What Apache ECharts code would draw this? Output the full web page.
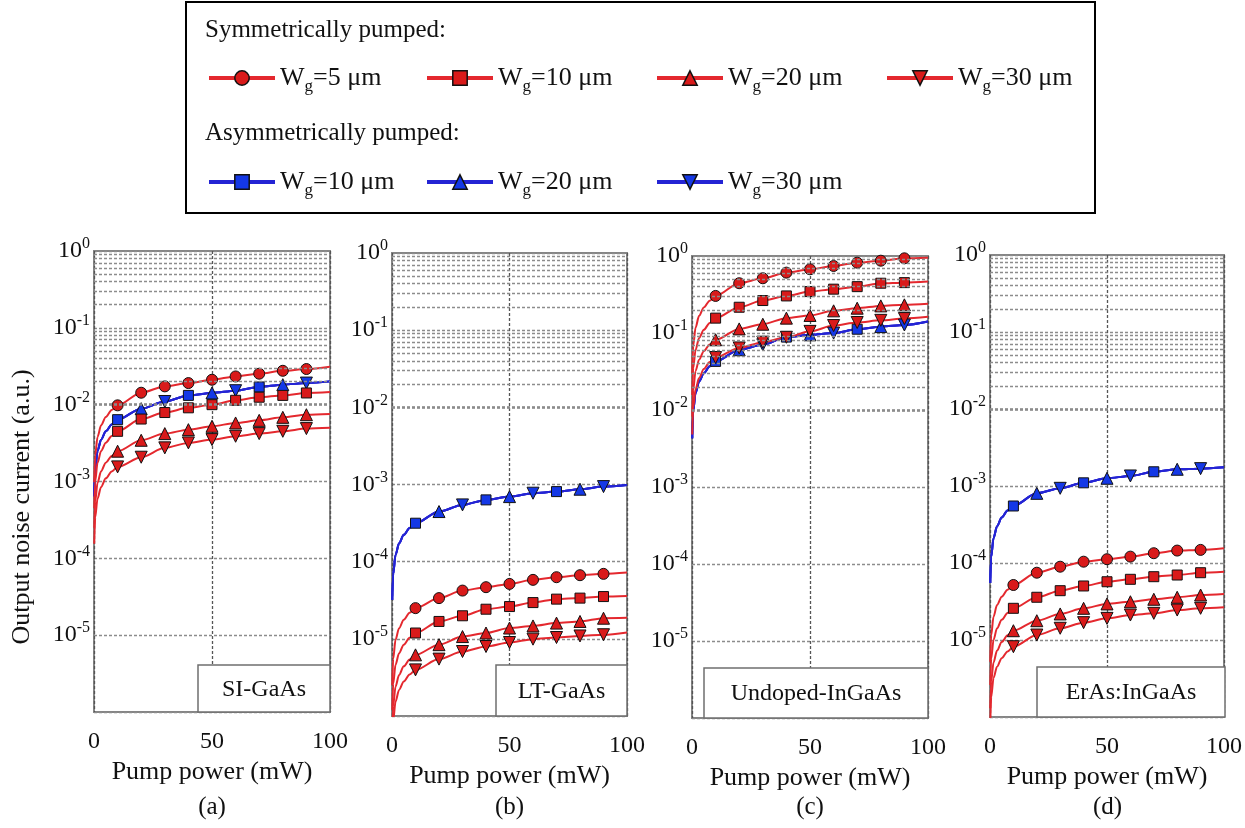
<!DOCTYPE html>
<html>
<head>
<meta charset="utf-8">
<script src="https://cdn.jsdelivr.net/npm/echarts@6/dist/echarts.min.js"></script>
<style>
  html, body { margin: 0; padding: 0; background: #fff; }
  #chart { width: 1245px; height: 828px; }
</style>
</head>
<body>
<div id="chart"></div>
<script>
// pump power samples (mW), markers sit on the 10..90 ones
const pumpPower = [0.1, 0.5, 1.5, 3, 5, 7.5, 10, 20, 30, 40, 50, 60, 70, 80, 90, 100]
const xTicks = [0, 50, 100]

// (a) SI-GaAs
const siGaAsS5  = [0.00098, 0.0022, 0.0038, 0.0054, 0.0069, 0.0085, 0.0098, 0.0143, 0.0173, 0.0191, 0.0211, 0.0233, 0.0253, 0.0276, 0.0291, 0.0312]
const siGaAsS10 = [0.00045, 0.001, 0.00175, 0.0025, 0.0032, 0.0039, 0.0045, 0.0065, 0.0079, 0.0091, 0.0100, 0.0114, 0.0125, 0.0132, 0.0142, 0.0146]
const siGaAsS20 = [0.00025, 0.00055, 0.00096, 0.00136, 0.00176, 0.00215, 0.00248, 0.00344, 0.0042, 0.00473, 0.00523, 0.00578, 0.00625, 0.00684, 0.0074, 0.00757]
const siGaAsS30 = [0.000155, 0.00034, 0.0006, 0.00085, 0.0011, 0.00135, 0.00155, 0.00207, 0.00274, 0.00318, 0.00351, 0.00388, 0.0042, 0.0045, 0.00488, 0.0050]
const siGaAsAsym = [0.00064, 0.0014, 0.0025, 0.0035, 0.0045, 0.0055, 0.00638, 0.00887, 0.0110, 0.0132, 0.0142, 0.0152, 0.0170, 0.0182, 0.0191, 0.0201]

// (b) LT-GaAs
const ltGaAsS5  = [2.5e-6, 5.5e-6, 9.7e-6, 1.37e-5, 1.77e-5, 2.17e-5, 2.5e-5, 3.37e-5, 4.22e-5, 4.67e-5, 5.15e-5, 5.81e-5, 6.29e-5, 6.68e-5, 6.95e-5, 7.23e-5]
const ltGaAsS10 = [1.2e-6, 2.6e-6, 4.6e-6, 6.5e-6, 8.4e-6, 1.03e-5, 1.19e-5, 1.68e-5, 1.99e-5, 2.42e-5, 2.62e-5, 2.95e-5, 3.27e-5, 3.37e-5, 3.53e-5, 3.6e-5]
const ltGaAsS20 = [6.2e-7, 1.36e-6, 2.4e-6, 3.4e-6, 4.4e-6, 5.4e-6, 6.2e-6, 8.4e-6, 1.07e-5, 1.19e-5, 1.38e-5, 1.47e-5, 1.6e-5, 1.68e-5, 1.85e-5, 1.87e-5]
const ltGaAsS30 = [4e-7, 8.7e-7, 1.54e-6, 2.18e-6, 2.8e-6, 3.45e-6, 3.96e-6, 5.46e-6, 6.85e-6, 7.95e-6, 8.96e-6, 9.9e-6, 1.04e-5, 1.09e-5, 1.13e-5, 1.21e-5]
const ltGaAsAsym = [3.2e-5, 6.9e-5, 1.22e-4, 1.73e-4, 2.23e-4, 2.73e-4, 3.15e-4, 4.46e-4, 5.44e-4, 6.32e-4, 6.97e-4, 7.71e-4, 8.09e-4, 8.69e-4, 9.39e-4, 9.88e-4]

// (c) Undoped-InGaAs
const inGaAsS5  = [0.03, 0.068, 0.117, 0.167, 0.215, 0.263, 0.303, 0.443, 0.514, 0.608, 0.673, 0.742, 0.819, 0.869, 0.933, 0.95]
const inGaAsS10 = [0.0156, 0.035, 0.06, 0.086, 0.11, 0.135, 0.156, 0.216, 0.264, 0.303, 0.345, 0.371, 0.40, 0.443, 0.451, 0.465]
const inGaAsS20 = [0.0082, 0.018, 0.032, 0.045, 0.058, 0.071, 0.0817, 0.113, 0.130, 0.156, 0.169, 0.194, 0.21, 0.225, 0.232, 0.239]
const inGaAsS30 = [0.0048, 0.0107, 0.0186, 0.026, 0.034, 0.042, 0.048, 0.064, 0.076, 0.088, 0.105, 0.125, 0.137, 0.146, 0.154, 0.162]
const inGaAsAsym = [0.0043, 0.0096, 0.0166, 0.0235, 0.030, 0.037, 0.0428, 0.0606, 0.0703, 0.0885, 0.0948, 0.0997, 0.112, 0.121, 0.127, 0.141]

// (d) ErAs:InGaAs
const erAsS5  = [5.2e-6, 1.15e-5, 2e-5, 2.85e-5, 3.65e-5, 4.5e-5, 5.18e-5, 7.48e-5, 8.95e-5, 1.04e-4, 1.12e-4, 1.21e-4, 1.34e-4, 1.45e-4, 1.48e-4, 1.55e-4]
const erAsS10 = [2.6e-6, 5.7e-6, 1e-5, 1.42e-5, 1.83e-5, 2.24e-5, 2.58e-5, 3.59e-5, 4.37e-5, 5.03e-5, 5.71e-5, 6.14e-5, 6.64e-5, 6.98e-5, 7.48e-5, 7.7e-5]
const erAsS20 = [1.3e-6, 2.9e-6, 5.1e-6, 7.3e-6, 9.4e-6, 1.15e-5, 1.32e-5, 1.78e-5, 2.18e-5, 2.58e-5, 2.94e-5, 3.14e-5, 3.38e-5, 3.59e-5, 3.84e-5, 3.96e-5]
const erAsS30 = [8e-7, 1.8e-6, 3.2e-6, 4.5e-6, 5.8e-6, 7.1e-6, 8.18e-6, 1.16e-5, 1.42e-5, 1.68e-5, 1.91e-5, 2.11e-5, 2.22e-5, 2.45e-5, 2.58e-5, 2.66e-5]
const erAsAsym = [5.5e-5, 1.2e-4, 2.1e-4, 3e-4, 3.9e-4, 4.8e-4, 5.5e-4, 8.03e-4, 9.33e-4, 1.1e-3, 1.26e-3, 1.35e-3, 1.53e-3, 1.65e-3, 1.68e-3, 1.75e-3]

const panels = [
  { material: 'SI-GaAs', tag: '(a)', sym: [siGaAsS5, siGaAsS10, siGaAsS20, siGaAsS30], asym: siGaAsAsym },
  { material: 'LT-GaAs', tag: '(b)', sym: [ltGaAsS5, ltGaAsS10, ltGaAsS20, ltGaAsS30], asym: ltGaAsAsym },
  { material: 'Undoped-InGaAs', tag: '(c)', sym: [inGaAsS5, inGaAsS10, inGaAsS20, inGaAsS30], asym: inGaAsAsym },
  { material: 'ErAs:InGaAs', tag: '(d)', sym: [erAsS5, erAsS10, erAsS20, erAsS30], asym: erAsAsym }
]

const symNames = ['S5', 'S10', 'S20', 'S30']
const asymNames = ['A10', 'A20', 'A30']
const labelOf = { S5: '5', S10: '10', S20: '20', S30: '30', A10: '10', A20: '20', A30: '30' }

// layout
const grids = [
  { left: 94, top: 251, width: 236, height: 461 },
  { left: 392, top: 253, width: 235, height: 463 },
  { left: 692, top: 256, width: 236, height: 462 },
  { left: 990, top: 255, width: 235, height: 462 }
]
const insets = [
  { x: 198, y: 665, w: 132, h: 47 },
  { x: 496, y: 665, w: 131, h: 51 },
  { x: 704, y: 668, w: 224, h: 50 },
  { x: 1037, y: 667, w: 188, h: 50 }
]

const FONT = '"Liberation Serif", "Times New Roman", serif'
const RED = '#e4282e'
const RED_MK = '#d91a1a'
const BLUE = '#2424d4'
const BLUE_MK = '#1438e6'

const marks = {
  S5: { symbol: 'circle', size: 11, rotate: 0 },
  S10: { symbol: 'rect', size: 10, rotate: 0 },
  S20: { symbol: 'triangle', size: 12, rotate: 0 },
  S30: { symbol: 'triangle', size: 12, rotate: 180 },
  A10: { symbol: 'rect', size: 10, rotate: 0 },
  A20: { symbol: 'triangle', size: 12, rotate: 0 },
  A30: { symbol: 'triangle', size: 12, rotate: 180 }
}
const symMarkAt = [10, 20, 30, 40, 50, 60, 70, 80, 90]
const asymMarkAt = { A10: [10, 40, 70], A20: [20, 50, 80], A30: [30, 60, 90] }

// log minor grid values 2..9 x 10^k
const minorLines = []
for (let k = -6; k < 0; k++) {
  for (let m = 2; m <= 9; m++) minorLines.push(m * Math.pow(10, k))
}

function buildData (values, markAt) {
  return pumpPower.map((x, i) => markAt.indexOf(x) >= 0
    ? [x, values[i]]
    : { value: [x, values[i]], symbol: 'none' })
}

function curve (name, idx, values, markAt, color, mkColor) {
  const mk = marks[name]
  return {
    name: name,
    type: 'line',
    xAxisIndex: idx,
    yAxisIndex: idx,
    smooth: 0.3,
    smoothMonotone: 'x',
    symbol: mk.symbol,
    symbolSize: mk.size,
    symbolRotate: mk.rotate,
    lineStyle: { color: color, width: 2 },
    itemStyle: { color: mkColor, borderColor: '#111', borderWidth: 1 },
    emphasis: { disabled: true },
    z: 3,
    data: buildData(values, markAt)
  }
}

const series = []
panels.forEach((p, idx) => {
  series.push({
    name: 'grid' + idx,
    type: 'line',
    xAxisIndex: idx,
    yAxisIndex: idx,
    data: [],
    silent: true,
    markLine: {
      silent: true,
      symbol: ['none', 'none'],
      label: { show: false },
      lineStyle: { color: '#8c8c8c', type: [3, 2], width: 1.3 },
      data: minorLines.map(v => ({ yAxis: v }))
    },
    z: 1
  })
})
panels.forEach((p, idx) => {
  asymNames.forEach(n => series.push(curve(n, idx, p.asym, asymMarkAt[n], BLUE, BLUE_MK)))
  symNames.forEach((n, j) => series.push(curve(n, idx, p.sym[j], symMarkAt, RED, RED_MK)))
})

const legendSpots = [
  { name: 'S5', left: 207, top: 61 },
  { name: 'S10', left: 425, top: 61 },
  { name: 'S20', left: 655, top: 61 },
  { name: 'S30', left: 885, top: 61 },
  { name: 'A10', left: 207, top: 165 },
  { name: 'A20', left: 425, top: 165 },
  { name: 'A30', left: 655, top: 165 }
]
const legends = legendSpots.map(l => ({
  data: [l.name],
  left: l.left,
  top: l.top,
  padding: 0,
  itemWidth: 66,
  itemHeight: 18,
  selectedMode: false,
  lineStyle: { width: 4 },
  itemStyle: { borderColor: '#111', borderWidth: 1.5 },
  formatter: n => 'W{sub|g}=' + labelOf[n] + ' μm',
  textStyle: {
    fontFamily: FONT, fontSize: 26, color: '#111', lineHeight: 34,
    rich: { sub: { fontFamily: FONT, fontSize: 17, lineHeight: 17, verticalAlign: 'bottom', color: '#111' } }
  }
}))

const graphic = [
  { type: 'rect', shape: { x: 186, y: 2, width: 909, height: 211 }, style: { fill: '#fff', stroke: '#000', lineWidth: 2 }, z: 0 },
  { type: 'text', x: 205, y: 30, style: { text: 'Symmetrically pumped:', font: '25px ' + FONT, fill: '#111', verticalAlign: 'middle' }, z: 5 },
  { type: 'text', x: 205, y: 133, style: { text: 'Asymmetrically pumped:', font: '25px ' + FONT, fill: '#111', verticalAlign: 'middle' }, z: 5 },
  { type: 'text', x: 22, y: 507, rotation: Math.PI / 2, style: { text: 'Output noise current (a.u.)', font: '26px ' + FONT, fill: '#111', align: 'center', verticalAlign: 'middle' }, z: 5 }
]
panels.forEach((p, idx) => {
  const b = insets[idx]
  graphic.push({ type: 'rect', shape: { x: b.x, y: b.y, width: b.w, height: b.h }, style: { fill: '#fff', stroke: '#6f6f6f', lineWidth: 1.5 }, z: 20 })
  graphic.push({ type: 'text', x: b.x + b.w / 2, y: b.y + b.h / 2 + 1, style: { text: p.material, font: '24px ' + FONT, fill: '#111', align: 'center', verticalAlign: 'middle' }, z: 21 })
  const g = grids[idx]
  graphic.push({ type: 'text', x: g.left + g.width / 2, y: 807, style: { text: p.tag, font: '25px ' + FONT, fill: '#111', align: 'center', verticalAlign: 'middle' }, z: 5 })
})

const option = {
  animation: false,
  backgroundColor: '#fff',
  legend: legends,
  graphic: graphic,
  grid: grids.map(g => ({
    left: g.left, top: g.top, width: g.width, height: g.height,
    show: true, backgroundColor: '#fff', borderColor: '#858585', borderWidth: 2
  })),
  xAxis: grids.map((g, idx) => ({
    type: 'value',
    gridIndex: idx,
    min: xTicks[0],
    max: xTicks[xTicks.length - 1],
    interval: 50,
    name: 'Pump power (mW)',
    nameLocation: 'middle',
    nameGap: 46,
    nameTextStyle: { fontFamily: FONT, fontSize: 26, color: '#111' },
    axisLine: { show: false },
    axisTick: { show: false },
    axisLabel: { fontFamily: FONT, fontSize: 24, color: '#111', margin: 18 },
    splitLine: { show: true, lineStyle: { color: '#555', type: [3, 2], width: 1.3 } }
  })),
  yAxis: grids.map((g, idx) => ({
    type: 'log',
    logBase: 10,
    gridIndex: idx,
    min: 1e-6,
    max: 1,
    splitNumber: 6,
    axisLine: { show: false },
    axisTick: { show: false },
    splitLine: { show: true, lineStyle: { color: '#8c8c8c', type: [3, 2], width: 1.3 } },
    axisLabel: {
      showMinLabel: false,
      margin: 4,
      fontFamily: FONT,
      fontSize: 24,
      lineHeight: 30,
      color: '#111',
      formatter: v => '10{sup|' + Math.round(Math.log10(v)) + '}',
      rich: { sup: { fontFamily: FONT, fontSize: 16, lineHeight: 16, verticalAlign: 'top', color: '#111' } }
    }
  })),
  series: series
}

const chart = echarts.init(document.getElementById('chart'))
chart.setOption(option)
window.addEventListener('resize', () => chart.resize())
</script>
</body>
</html>
